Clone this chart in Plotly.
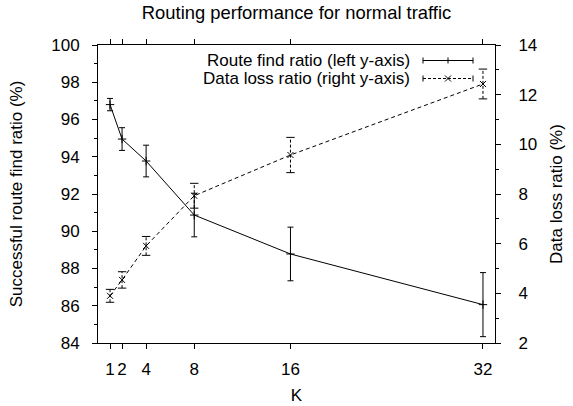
import plotly.graph_objects as go

K = [1, 2, 4, 8, 16, 32]
route_find = [96.8, 94.95, 93.77, 90.87, 88.78, 86.06]
route_err = [0.33, 0.61, 0.85, 1.17, 1.44, 1.72]
data_loss = [3.9, 4.54, 5.91, 7.93, 9.57, 12.43]
loss_err = [0.26, 0.33, 0.38, 0.5, 0.71, 0.6]
x_ticks = [1, 2, 4, 8, 16, 32]

FONT = "Liberation Sans, Arial, Helvetica, sans-serif"
FS = 17

fig = go.Figure()

fig.add_trace(go.Scatter(
    x=K, y=route_find, mode="lines+markers",
    line=dict(color="black", width=1),
    marker=dict(symbol="cross-thin", size=6, line=dict(color="black", width=1)),
    error_y=dict(type="data", array=route_err, visible=True, color="black",
                 thickness=1, width=3),
    name="Route find ratio (left y-axis)", showlegend=False,
))

# dashed error bars for data loss (vertical dashed segments + caps)
ex, ey = [], []
cx, cy = [], []
for k, v, e in zip(K, data_loss, loss_err):
    ex += [k, k, None]
    ey += [v - e, v + e, None]
    cx += [k, k]
    cy += [v - e, v + e]
fig.add_trace(go.Scatter(
    x=ex, y=ey, mode="lines", yaxis="y2",
    line=dict(color="black", width=1, dash="3px,2px"),
    showlegend=False, hoverinfo="skip",
))
fig.add_trace(go.Scatter(
    x=cx, y=cy, mode="markers", yaxis="y2",
    marker=dict(symbol="line-ew", size=6, line=dict(color="black", width=1)),
    showlegend=False, hoverinfo="skip",
))
fig.add_trace(go.Scatter(
    x=K, y=data_loss, mode="lines+markers", yaxis="y2",
    line=dict(color="black", width=1, dash="4px,3px"),
    marker=dict(symbol="x-thin", size=6, line=dict(color="black", width=1)),
    name="Data loss ratio (right y-axis)", showlegend=False,
))

axis_common = dict(
    showgrid=False, zeroline=False, showline=True, linecolor="black",
    linewidth=1, ticks="outside", ticklen=5, tickcolor="black", automargin=False,
    tickfont=dict(family=FONT, size=FS, color="black"),
)

fig.update_layout(
    width=573, height=406,
    margin=dict(l=98, r=78, t=45, b=63),
    paper_bgcolor="white", plot_bgcolor="white",
    font=dict(family=FONT, size=FS, color="black"),
    title=dict(text="Routing performance for normal traffic", x=0.5175, xanchor="center",
               y=0.97, yanchor="middle", automargin=False,
               font=dict(family=FONT, size=18.4, color="black")),
    xaxis=dict(range=[0, 33], tickvals=x_ticks, ticktext=[str(t) for t in x_ticks],
               mirror="ticks", ticklabelstandoff=6,
               title=dict(text="K", standoff=10, font=dict(family=FONT, size=FS)),
               **axis_common),
    yaxis=dict(range=[84, 100], dtick=2, ticklabelstandoff=9,
               minor=dict(dtick=1, ticks="outside", ticklen=3, tickcolor="black"),
               title=dict(text="Successful route find ratio (%)", standoff=24,
                          font=dict(family=FONT, size=FS)),
               **axis_common),
    yaxis2=dict(range=[2, 14], dtick=2, overlaying="y", side="right", ticklabelstandoff=14,
                minor=dict(dtick=1, ticks="outside", ticklen=3, tickcolor="black"),
                title=dict(text="Data loss ratio (%)", standoff=13,
                           font=dict(family=FONT, size=FS)),
                **axis_common),
    showlegend=False,
)

# Gnuplot-style key (top right, right-aligned text with sample on the right)
W, H = 397.0, 298.0
def px(x):
    return (x - 98) / W
def py(y):
    return (343 - y) / H

rows = [("Route find ratio (left y-axis)", 60.5, "solid", "plus"),
        ("Data loss ratio (right y-axis)", 78.5, "3px,2px", "x")]
x0, x1, xm = 423, 473, 448
for text, yy, dash, mk in rows:
    fig.add_annotation(text=text, xref="paper", yref="paper", x=px(412), y=py(yy),
                       xanchor="right", yanchor="middle", showarrow=False,
                       font=dict(family=FONT, size=FS, color="black"))
    fig.add_shape(type="line", xref="paper", yref="paper", x0=px(x0), x1=px(x1),
                  y0=py(yy), y1=py(yy), line=dict(color="black", width=1, dash=dash))
    for xe in (x0, x1):
        fig.add_shape(type="line", xref="paper", yref="paper", x0=px(xe), x1=px(xe),
                      y0=py(yy - 3), y1=py(yy + 3), line=dict(color="black", width=1))
    if mk == "plus":
        fig.add_shape(type="line", xref="paper", yref="paper", x0=px(xm), x1=px(xm),
                      y0=py(yy - 3), y1=py(yy + 3), line=dict(color="black", width=1))
    else:
        fig.add_shape(type="line", xref="paper", yref="paper", x0=px(xm - 3), x1=px(xm + 3),
                      y0=py(yy - 3), y1=py(yy + 3), line=dict(color="black", width=1))
        fig.add_shape(type="line", xref="paper", yref="paper", x0=px(xm - 3), x1=px(xm + 3),
                      y0=py(yy + 3), y1=py(yy - 3), line=dict(color="black", width=1))

fig.write_html("out.html", config={"displayModeBar": False},
               post_script="document.body.style.margin='0';document.body.style.overflow='hidden';")
